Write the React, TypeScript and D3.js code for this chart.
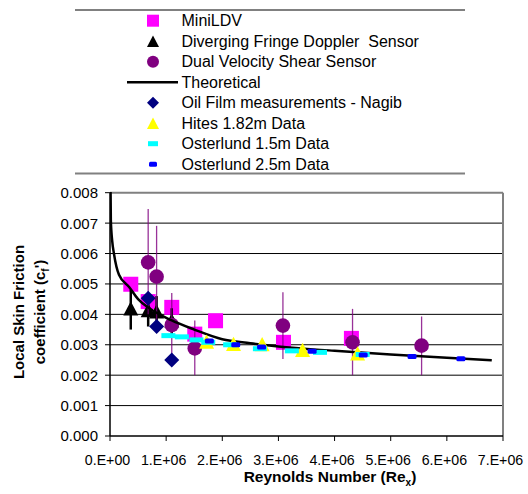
import React from "react";
import * as d3 from "d3";

// ---- data ----
const xTicks = [0, 1e6, 2e6, 3e6, 4e6, 5e6, 6e6, 7e6];
const xTickLabels = ["0.E+00", "1.E+06", "2.E+06", "3.E+06", "4.E+06", "5.E+06", "6.E+06", "7.E+06"];
const yTicks = [0, 0.001, 0.002, 0.003, 0.004, 0.005, 0.006, 0.007, 0.008];
const yTickLabels = ["0.000", "0.001", "0.002", "0.003", "0.004", "0.005", "0.006", "0.007", "0.008"];

const miniLdvRe = [0.37e6, 0.68e6, 1.10e6, 1.51e6, 1.88e6, 3.09e6, 4.30e6];
const miniLdvCf = [0.00499, 0.00442, 0.00423, 0.00335, 0.00379, 0.00308, 0.00321];

const dfdsRe = [0.37e6, 0.68e6, 0.83e6, 1.10e6];
const dfdsCf = [0.0042, 0.00414, 0.0041, 0.0038];
const dfdsLo = [0.0035, 0.0036, 0.0036, 0.0033];
const dfdsHi = [0.0048, 0.0046, 0.0046, 0.0042];

const dvssRe = [0.68e6, 0.83e6, 1.10e6, 1.51e6, 3.08e6, 4.32e6, 5.55e6];
const dvssCf = [0.00571, 0.00524, 0.00365, 0.00288, 0.00363, 0.00308, 0.00297];
const dvssLo = [0.004, 0.0036, 0.0027, 0.002, 0.00253, 0.002, 0.002];
const dvssHi = [0.00746, 0.00691, 0.0047, 0.0038, 0.00473, 0.00418, 0.00393];

const theoRe = [0.01e6, 0.015e6, 0.04e6, 0.07e6, 0.16e6, 0.34e6, 0.5e6, 0.7e6, 1.1e6, 1.5e6, 2.0e6, 2.5e6, 3.0e6, 4.0e6, 5.0e6, 6.0e6, 6.8e6];
const theoCf = [0.0081, 0.0071, 0.0064, 0.006, 0.0053, 0.0049, 0.0045, 0.0042, 0.0038, 0.0035, 0.00318, 0.00305, 0.00294, 0.0028, 0.00268, 0.00257, 0.00249];

const oilRe = [0.68e6, 0.83e6, 1.10e6];
const oilCf = [0.00453, 0.0036, 0.0025];

const hitesRe = [1.72e6, 2.2e6, 2.71e6, 3.43e6, 4.41e6];
const hitesCf = [0.0031, 0.00303, 0.00302, 0.00283, 0.00272];

const ost15Re = [1.04e6, 1.28e6, 1.54e6, 1.75e6, 2.14e6, 2.67e6, 3.24e6, 3.74e6, 4.5e6];
const ost15Cf = [0.0033, 0.00326, 0.00316, 0.00308, 0.003, 0.00287, 0.0028, 0.00275, 0.00268];

const ost25Re = [1.77e6, 2.24e6, 2.70e6, 3.6e6, 4.51e6, 5.38e6, 6.25e6];
const ost25Cf = [0.00312, 0.003, 0.00293, 0.00279, 0.00266, 0.00261, 0.00254];

const legendLabels = [
  "MiniLDV",
  "Diverging Fringe Doppler  Sensor",
  "Dual Velocity Shear Sensor",
  "Theoretical",
  "Oil Film measurements - Nagib",
  "Hites 1.82m Data",
  "Osterlund 1.5m Data",
  "Osterlund 2.5m Data",
];

const FONT = "'Liberation Sans', Arial, Helvetica, sans-serif";
const W = 528;
const H = 494;

const x = d3.scaleLinear().domain([0, 7e6]).range([110, 503]);
const y = d3.scaleLinear().domain([0, 0.008]).range([436, 192.7]);

const MAGENTA = "#FF00FF";
const PURPLE = "#800080";
const NAVY = "#000080";
const YELLOW = "#FFFF00";
const CYAN = "#00FFFF";
const BLUE = "#0000FF";

function Square({ cx, cy, s }: { cx: number; cy: number; s: number }) {
  return <rect x={cx - s / 2} y={cy - s / 2} width={s} height={s} fill={MAGENTA} />;
}
function Tri({ cx, cy, s, fill }: { cx: number; cy: number; s: number; fill: string }) {
  const h = s * 0.95;
  return (
    <path
      d={`M${cx},${cy - h / 2} L${cx + s / 2},${cy + h / 2} L${cx - s / 2},${cy + h / 2} Z`}
      fill={fill}
    />
  );
}
function Diamond({ cx, cy, s }: { cx: number; cy: number; s: number }) {
  const r = s / 2;
  return <path d={`M${cx},${cy - r} L${cx + r},${cy} L${cx},${cy + r} L${cx - r},${cy} Z`} fill={NAVY} />;
}

export default function App() {
  const line = d3
    .line<number>()
    .x((_, i) => x(theoRe[i]))
    .y((d) => y(d))
    .curve(d3.curveMonotoneX);

  const legendY0 = 20.7;
  const legendDy = 20.5;
  const lx = 153;

  return (
    <svg
      width={W}
      height={H}
      style={{ position: "absolute", left: 0, top: 0, background: "#fff" }}
      fontFamily={FONT}
    >
      <defs>
        <clipPath id="plotclip">
          <rect x={110} y={192} width={393} height={244} />
        </clipPath>
      </defs>
      <rect x={0} y={0} width={W} height={H} fill="#fff" />

      {/* legend box */}
      <line x1={75} x2={465} y1={10} y2={10} stroke="#808080" strokeWidth={2} />
      <line x1={75} x2={465} y1={173.5} y2={173.5} stroke="#808080" strokeWidth={2} />
      {legendLabels.map((lab, i) => {
        const cy = legendY0 + i * legendDy;
        let mark: React.ReactNode = null;
        if (i === 0) mark = <Square cx={lx} cy={cy} s={12} />;
        if (i === 1) mark = <Tri cx={lx} cy={cy} s={12} fill="#000" />;
        if (i === 2) mark = <circle cx={lx} cy={cy} r={6} fill={PURPLE} />;
        if (i === 3) mark = <line x1={127} x2={178} y1={cy} y2={cy} stroke="#000" strokeWidth={2.5} />;
        if (i === 4) mark = <Diamond cx={lx} cy={cy} s={12} />;
        if (i === 5) mark = <Tri cx={lx} cy={cy} s={12} fill={YELLOW} />;
        if (i === 6) mark = <rect x={lx - 5} y={cy - 2.5} width={10} height={5} fill={CYAN} />;
        if (i === 7) mark = <rect x={lx - 4} y={cy - 2.5} width={8} height={5} rx={1.5} fill={BLUE} />;
        return (
          <g key={lab}>
            {mark}
            <text x={181.5} y={cy} dy="0.36em" fontSize={16} fill="#000" style={{ whiteSpace: "pre" }}>
              {lab}
            </text>
          </g>
        );
      })}

      {/* gridlines */}
      {yTicks.slice(1, -1).map((t) => (
        <line key={t} x1={110} x2={503} y1={y(t)} y2={y(t)} stroke="#000" strokeWidth={1} />
      ))}
      {/* plot border top & right */}
      <line x1={110} x2={503} y1={y(0.008)} y2={y(0.008)} stroke="#808080" strokeWidth={2} />
      <line x1={503} x2={503} y1={y(0.008)} y2={436} stroke="#808080" strokeWidth={2} />

      {/* axes */}
      <line x1={110} x2={110} y1={y(0.008)} y2={436} stroke="#000" strokeWidth={1.5} />
      <line x1={110} x2={503} y1={436} y2={436} stroke="#000" strokeWidth={1.5} />
      {yTicks.map((t, i) => (
        <g key={"yt" + t}>
          <line x1={105} x2={110} y1={y(t)} y2={y(t)} stroke="#000" strokeWidth={1} />
          <text x={98} y={y(t)} dy="0.36em" textAnchor="end" fontSize={15} fill="#000">
            {yTickLabels[i]}
          </text>
        </g>
      ))}
      {xTicks.map((t, i) => (
        <g key={"xt" + t}>
          <line x1={x(t)} x2={x(t)} y1={436} y2={441} stroke="#000" strokeWidth={1} />
          <text x={x(t) - 2.5} y={465} textAnchor="middle" fontSize={14.2} fill="#000">
            {xTickLabels[i]}
          </text>
        </g>
      ))}

      {/* axis titles */}
      <text x={330} y={482} textAnchor="middle" fontSize={15.5} fontWeight="bold" fill="#000">
        Reynolds Number (Re
        <tspan fontSize={10} dy={4}>x</tspan>
        <tspan dy={-4}>)</tspan>
      </text>
      <g transform="translate(24,312) rotate(-90)">
        <text x={0} y={0} textAnchor="middle" fontSize={15} fontWeight="bold" fill="#000">
          Local Skin Friction
        </text>
      </g>
      <g transform="translate(45,312) rotate(-90)">
        <text x={0} y={0} textAnchor="middle" fontSize={15} fontWeight="bold" fill="#000">
          coefficient (c
          <tspan fontSize={10} dy={4}>f</tspan>
          <tspan dy={-4}>')</tspan>
        </text>
      </g>

      <g clipPath="url(#plotclip)">
        {/* MiniLDV */}
        {miniLdvRe.map((r, i) => (
          <Square key={"m" + i} cx={x(r)} cy={y(miniLdvCf[i])} s={15} />
        ))}
        {/* Diverging fringe with error bars */}
        {dfdsRe.map((r, i) => (
          <line key={"de" + i} x1={x(r)} x2={x(r)} y1={y(dfdsLo[i])} y2={y(dfdsHi[i])} stroke="#000" strokeWidth={2.5} />
        ))}
        {dfdsRe.map((r, i) => (
          <Tri key={"d" + i} cx={x(r)} cy={y(dfdsCf[i])} s={15} fill="#000" />
        ))}
        {/* Dual velocity */}
        {dvssRe.map((r, i) => (
          <line key={"ve" + i} x1={x(r)} x2={x(r)} y1={y(dvssLo[i])} y2={y(dvssHi[i])} stroke={PURPLE} strokeWidth={1.3} opacity={0.8} />
        ))}
        {dvssRe.map((r, i) => (
          <circle key={"v" + i} cx={x(r)} cy={y(dvssCf[i])} r={7.3} fill={PURPLE} />
        ))}
        {/* Theoretical */}
        <path d={line(theoCf) || ""} fill="none" stroke="#000" strokeWidth={2.5} />
        {/* Oil film */}
        {oilRe.map((r, i) => (
          <Diamond key={"o" + i} cx={x(r)} cy={y(oilCf[i])} s={15} />
        ))}
        {/* Hites */}
        {hitesRe.map((r, i) => (
          <Tri key={"h" + i} cx={x(r)} cy={y(hitesCf[i])} s={15} fill={YELLOW} />
        ))}
        {/* Osterlund 1.5 */}
        {ost15Re.map((r, i) => (
          <rect key={"c" + i} x={x(r) - 7} y={y(ost15Cf[i]) - 2.5} width={14} height={5} fill={CYAN} />
        ))}
        {/* Osterlund 2.5 */}
        {ost25Re.map((r, i) => (
          <rect key={"b" + i} x={x(r) - 4.5} y={y(ost25Cf[i]) - 2.5} width={9} height={5} rx={1.5} fill={BLUE} />
        ))}
      </g>
    </svg>
  );
}
